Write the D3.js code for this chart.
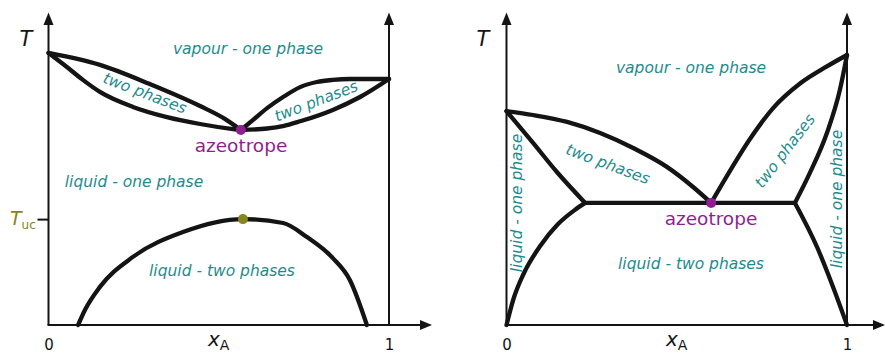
<!DOCTYPE html>
<html>
<head>
<meta charset="utf-8">
<script src="https://cdn.jsdelivr.net/npm/d3@7"></script>
<style>
  body { margin: 0; background: #fff; }
  svg { display: block; }
  text { font-family: "DejaVu Sans", sans-serif; }
</style>
</head>
<body>
<svg id="chart" width="885" height="354"></svg>
<script>
// ---- Left diagram: low-boiling azeotrope with an upper critical solution point ----
// Points are [mole fraction x_A, temperature (arbitrary units 0-100)]
const leftDewA      = [[0,90.7],[0.151,86.7],[0.298,80.3],[0.445,73],[0.518,68.7],[0.565,65]];
const leftBubbleA   = [[0,90.7],[0.054,86],[0.101,81.7],[0.151,77.7],[0.248,72.7],[0.348,69.3],[0.445,67],[0.542,65.3],[0.565,65]];
const leftDewB      = [[0.565,65],[0.600,68.3],[0.642,72.3],[0.689,76],[0.739,79.3],[0.788,81],[0.835,81.7],[0.885,82],[1,82]];
const leftBubbleB   = [[0.565,65],[0.642,65.5],[0.689,66.3],[0.739,67.9],[0.835,71.7],[0.915,76],[1,82]];
const leftMiscGap   = [[0.087,0],[0.107,5],[0.151,12.7],[0.248,22.7],[0.395,31],[0.571,35.3],[0.689,34],[0.759,29.3],[0.835,22.3],[0.885,15],[0.935,0]];
const leftAzeotrope = [0.565, 65];
const leftCritical  = [0.571, 35.3];

// ---- Right diagram: heterogeneous azeotrope (three-phase line) ----
const rightDewA     = [[0,71.3],[0.078,70],[0.178,67.7],[0.275,64],[0.372,59],[0.471,52.7],[0.548,46],[0.601,40.7]];
const rightBubbleA  = [[0,71.3],[0.078,60.7],[0.148,51],[0.231,40.7]];
const rightDewB     = [[0.601,40.7],[0.648,49.8],[0.715,62],[0.783,72.3],[0.862,80.5],[0.941,86.2],[1,90]];
const rightBubbleB  = [[0.847,40.7],[0.891,50.7],[0.941,64],[0.979,78.3],[1,90]];
const rightSolA     = [[0,0],[0.02,8.5],[0.05,17],[0.1,26.5],[0.15,33.5],[0.2,38.3],[0.231,40.7]];
const rightSolB     = [[0.847,40.7],[0.912,26],[0.959,12.7],[1,0]];
const rightThreePhase = [[0.231,40.7],[0.847,40.7]];
const rightAzeotrope  = [0.601, 40.7];

const xTicks = [0, 1];

const TEAL = "#1d8c8c", PURPLE = "#911e91", OLIVE = "#868620", INK = "#141414";

const svg = d3.select("#chart");

function panel(x0, x1, axisEnd) {
  const x = d3.scaleLinear().domain([0, 1]).range([x0, x1]);
  const y = d3.scaleLinear().domain([0, 100]).range([325, 25]);
  const g = svg.append("g");

  // frame: left and right temperature axes, composition axis
  const arrowUp = (px) => g.append("path")
    .attr("d", `M${px},${y(104.2)} L${px - 5},${y(100)} L${px + 5},${y(100)} Z`)
    .attr("fill", INK);
  [x(0), x(1)].forEach(px => {
    g.append("line").attr("x1", px).attr("x2", px)
      .attr("y1", y(0)).attr("y2", y(100.5))
      .attr("stroke", INK).attr("stroke-width", 2);
    arrowUp(px);
  });
  g.append("line").attr("x1", x(0) - 1).attr("x2", axisEnd - 10)
    .attr("y1", y(0)).attr("y2", y(0))
    .attr("stroke", INK).attr("stroke-width", 2);
  g.append("path")
    .attr("d", `M${axisEnd},${y(0)} L${axisEnd - 12},${y(0) - 5} L${axisEnd - 12},${y(0) + 5} Z`)
    .attr("fill", INK);

  const ax = g.append("g").attr("transform", `translate(0,${y(0)})`)
    .call(d3.axisBottom(x).tickValues(xTicks).tickFormat(d3.format("d")).tickSize(0).tickPadding(14));
  ax.select(".domain").remove();
  ax.selectAll("text").attr("font-size", 15).attr("fill", INK)
    .attr("font-family", "DejaVu Sans, sans-serif");

  const line = d3.line().x(d => x(d[0])).y(d => y(d[1])).curve(d3.curveMonotoneX);
  return { g, x, y, line };
}

function curves(p, list) {
  list.forEach(pts => p.g.append("path").attr("d", p.line(pts))
    .attr("fill", "none").attr("stroke", INK).attr("stroke-width", 4.3)
    .attr("stroke-linejoin", "round").attr("stroke-linecap", "round"));
}

function label(p, txt, cx, cy, angle, opts = {}) {
  p.g.append("text").text(txt)
    .attr("transform", `translate(${cx},${cy}) rotate(${angle || 0})`)
    .attr("text-anchor", "middle")
    .attr("font-size", opts.size || 15.5)
    .attr("font-style", opts.italic === false ? "normal" : "italic")
    .attr("fill", opts.color || TEAL);
}

function axisTitles(p, tx, ty, xx, xy) {
  p.g.append("text").attr("x", tx).attr("y", ty).attr("text-anchor", "middle")
    .attr("font-size", 21).attr("font-style", "italic").attr("fill", INK).text("T");
  const xa = p.g.append("text").attr("x", xx).attr("y", xy).attr("fill", INK);
  xa.append("tspan").attr("font-size", 20).attr("font-style", "italic").text("x");
  xa.append("tspan").attr("font-size", 14).attr("dy", 4).text("A");
}

// ---------- left panel ----------
const L = panel(48.5, 389, 432);
curves(L, [leftDewA, leftBubbleA, leftDewB, leftBubbleB, leftMiscGap]);
axisTitles(L, 26, 46, 208, 346);

// upper critical solution temperature marker on the T axis
const tuc = L.g.append("g").attr("transform", `translate(${L.x(0)},0)`)
  .call(d3.axisLeft(L.y).tickValues([leftCritical[1]]).tickSize(11).tickFormat(""));
tuc.select(".domain").remove();
tuc.selectAll("line").attr("stroke", INK).attr("stroke-width", 2);
const tucLbl = L.g.append("text").attr("x", 10).attr("y", L.y(leftCritical[1]) + 6).attr("fill", OLIVE);
tucLbl.append("tspan").attr("font-size", 19).attr("font-style", "italic").text("T");
tucLbl.append("tspan").attr("font-size", 12).attr("dy", 4).text("uc");

L.g.append("circle").attr("cx", L.x(leftAzeotrope[0])).attr("cy", L.y(leftAzeotrope[1])).attr("r", 5).attr("fill", PURPLE);
L.g.append("circle").attr("cx", L.x(leftCritical[0])).attr("cy", L.y(leftCritical[1])).attr("r", 5).attr("fill", OLIVE);

label(L, "vapour - one phase", 248, 54);
label(L, "two phases", 143, 98, 21);
label(L, "two phases", 318, 106, -21);
label(L, "azeotrope", 241, 152, 0, { italic: false, color: PURPLE, size: 18.5 });
label(L, "liquid - one phase", 134, 187);
label(L, "liquid - two phases", 222, 276);

// ---------- right panel ----------
const R = panel(506.5, 847, 885);
curves(R, [rightDewA, rightBubbleA, rightDewB, rightBubbleB, rightSolA, rightSolB, rightThreePhase]);
axisTitles(R, 483, 46, 666, 346);

R.g.append("circle").attr("cx", R.x(rightAzeotrope[0])).attr("cy", R.y(rightAzeotrope[1])).attr("r", 5).attr("fill", PURPLE);

label(R, "vapour - one phase", 691, 73);
label(R, "two phases", 606, 169, 20.5);
label(R, "two phases", 789, 154, -52.5);
label(R, "azeotrope", 711, 225, 0, { italic: false, color: PURPLE, size: 18.5 });
label(R, "liquid - two phases", 691, 269);
label(R, "liquid - one phase", 522, 203, -90);
label(R, "liquid - one phase", 842, 199, -90);
</script>
</body>
</html>
